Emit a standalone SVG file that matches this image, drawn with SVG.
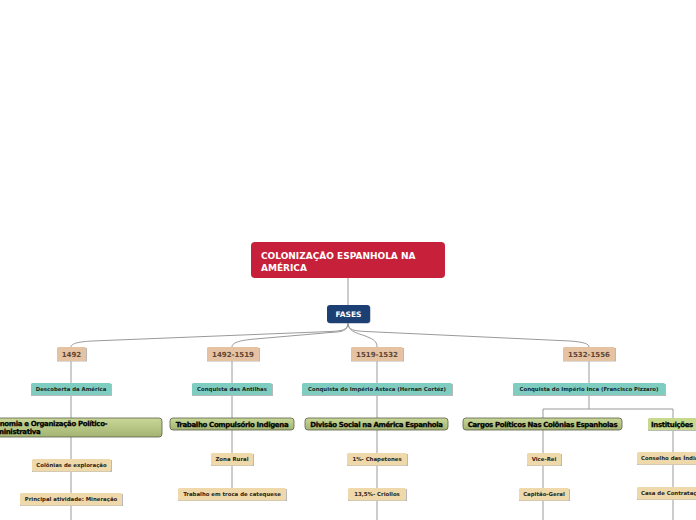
<svg xmlns="http://www.w3.org/2000/svg" width="696" height="520" viewBox="0 0 696 520">
<defs>
<linearGradient id="gr" x1="0" y1="0" x2="0" y2="1">
<stop offset="0" stop-color="#C9D898"/>
<stop offset="1" stop-color="#A3B371"/>
</linearGradient>
<style>
.ln{fill:none;stroke:#9a9a9a;stroke-width:1}
.sh{fill:#b9b9b9}
.t{font-family:"DejaVu Sans",Verdana,sans-serif;font-weight:bold;text-anchor:middle}
.root{fill:#C7203A}
.root-t{fill:#fff;font-size:9px;text-anchor:start}
.fases{fill:#1C3F74}
.fases-t{fill:#fff;font-size:7.5px}
.ph{fill:#E5C2A2}
.ph-t{fill:#5E4535;font-size:7px}
.tl{fill:#7FCDC1}
.tl-t{fill:#1a2a28;font-size:5.4px}
.gn{fill:url(#gr);stroke:#5a5f4a;stroke-width:0.8}
.gn-t{fill:#000;stroke:#000;stroke-width:0.25;font-size:7px;letter-spacing:-0.35px}
.gl{fill:#C6D98C}
.bg{fill:#EFD9AA}
.bg-t{fill:#2b2418;font-size:5.4px}
</style>
</defs>
<rect width="696" height="520" fill="#fff"/>
<g id="connectors">
<path class="ln" d="M348,278 V305"/>
<path class="ln" d="M348,323 C348,330 342,331 330,331.5 L92,341 C76,342 71,344 71,347"/>
<path class="ln" d="M348,323 C348,331 342,332 330,332.5 L255,339 C238,340.5 232,343 232,347"/>
<path class="ln" d="M348,323 C348,333 360,333 370,338 C375,340 377,343 377,347"/>
<path class="ln" d="M348,323 C348,330 354,331 366,331.5 L570,341 C584,342 589,344 589,347"/>
<path class="ln" d="M71,361 V520"/>
<path class="ln" d="M232,361 V488"/>
<path class="ln" d="M377,361 V520"/>
<path class="ln" d="M589,361 V409 M543,409 H673 M543,409 V520 M673,409 V520"/>
</g>
<g id="root">
<rect x="251" y="242" width="194" height="36" rx="4" class="root"/>
<text class="t root-t" x="261" y="259">COLONIZAÇÃO ESPANHOLA NA</text>
<text class="t root-t" x="261" y="271">AMÉRICA</text>
</g>
<g id="fases">
<rect x="327.5" y="305.5" width="43" height="18" rx="3" fill="#9aa3b3"/>
<rect x="327" y="305" width="43" height="18" rx="3" class="fases"/>
<text class="t fases-t" x="348.5" y="317">FASES</text>
</g>
<g id="p1492">
<rect x="57" y="348" width="30" height="13.5" class="sh"/>
<rect x="57" y="347" width="29" height="14" rx="1.5" class="ph"/>
<text class="t ph-t" x="71.5" y="356.5">1492</text>
</g>
<g id="p1492-1519">
<rect x="207" y="348" width="53" height="13.5" class="sh"/>
<rect x="207" y="347" width="52" height="14" rx="1.5" class="ph"/>
<text class="t ph-t" x="233" y="356.5">1492-1519</text>
</g>
<g id="p1519-1532">
<rect x="351" y="348" width="53" height="13.5" class="sh"/>
<rect x="351" y="347" width="52" height="14" rx="1.5" class="ph"/>
<text class="t ph-t" x="377" y="356.5">1519-1532</text>
</g>
<g id="p1532-1556">
<rect x="563" y="348" width="53" height="13.5" class="sh"/>
<rect x="563" y="347" width="52" height="14" rx="1.5" class="ph"/>
<text class="t ph-t" x="589" y="356.5">1532-1556</text>
</g>
<g id="descoberta">
<rect x="31" y="384" width="81" height="12" class="sh"/>
<rect x="31" y="383" width="80" height="12" rx="1.5" class="tl"/>
<text class="t tl-t" x="71" y="391">Descoberta da América</text>
</g>
<g id="antilhas">
<rect x="192" y="384" width="81" height="12" class="sh"/>
<rect x="192" y="383" width="80" height="12" rx="1.5" class="tl"/>
<text class="t tl-t" x="232" y="391">Conquista das Antilhas</text>
</g>
<g id="asteca">
<rect x="302" y="384" width="151" height="12" class="sh"/>
<rect x="302" y="383" width="150" height="12" rx="1.5" class="tl"/>
<text class="t tl-t" x="377" y="391">Conquista do Império Asteca (Hernan Cortéz)</text>
</g>
<g id="inca">
<rect x="513" y="384" width="153" height="12" class="sh"/>
<rect x="513" y="383" width="152" height="12" rx="1.5" class="tl"/>
<text class="t tl-t" x="589" y="391">Conquista do Império Inca (Francisco Pizzaro)</text>
</g>
<g id="economia">
<rect x="-20" y="418" width="182" height="19" rx="3" class="gn"/>
<text class="t gn-t" x="-13" y="426" style="text-anchor:start">Economia e Organização Político-</text>
<text class="t gn-t" x="-13" y="433.5" style="text-anchor:start">Administrativa</text>
</g>
<g id="trabalho-compulsorio">
<rect x="170" y="418" width="124" height="12" rx="3" class="gn"/>
<text class="t gn-t" x="232" y="426.5">Trabalho Compulsório Indigena</text>
</g>
<g id="divisao-social">
<rect x="305" y="418" width="143" height="12" rx="3" class="gn"/>
<text class="t gn-t" x="376.5" y="426.5">Divisão Social na América Espanhola</text>
</g>
<g id="cargos">
<rect x="463" y="418" width="159" height="12" rx="3" class="gn"/>
<text class="t gn-t" x="542.5" y="426.5">Cargos Políticos Nas Colônias Espanholas</text>
</g>
<g id="instituicoes">
<rect x="648" y="419" width="60" height="12" class="sh"/>
<rect x="648" y="418" width="60" height="12" rx="1.5" class="gl"/>
<text class="t gn-t" x="651" y="426.5" style="text-anchor:start">Instituições</text>
</g>
<g id="colonias">
<rect x="32" y="460" width="80" height="12" class="sh"/>
<rect x="32" y="459" width="79" height="12.5" rx="1.5" class="bg"/>
<text class="t bg-t" x="71.5" y="467.2">Colônias de exploração</text>
</g>
<g id="mineracao">
<rect x="20" y="494" width="103" height="12" class="sh"/>
<rect x="20" y="493" width="102" height="12.5" rx="1.5" class="bg"/>
<text class="t bg-t" x="71" y="501.2">Principal atividade: Mineração</text>
</g>
<g id="zona-rural">
<rect x="211" y="454" width="43" height="12" class="sh"/>
<rect x="211" y="453" width="42" height="12.5" rx="1.5" class="bg"/>
<text class="t bg-t" x="232" y="461.2">Zona Rural</text>
</g>
<g id="catequese">
<rect x="178" y="489" width="109" height="12" class="sh"/>
<rect x="178" y="488" width="108" height="12.5" rx="1.5" class="bg"/>
<text class="t bg-t" x="232" y="496.2">Trabalho em troca de catequese</text>
</g>
<g id="chapetones">
<rect x="347" y="454" width="61" height="12" class="sh"/>
<rect x="347" y="453" width="60" height="12.5" rx="1.5" class="bg"/>
<text class="t bg-t" x="377" y="461.2">1%- Chapetones</text>
</g>
<g id="criollos">
<rect x="348" y="489" width="59" height="12" class="sh"/>
<rect x="348" y="488" width="58" height="12.5" rx="1.5" class="bg"/>
<text class="t bg-t" x="377" y="496.2">13,5%- Criollos</text>
</g>
<g id="vice-rei">
<rect x="527" y="454" width="35" height="12" class="sh"/>
<rect x="527" y="453" width="34" height="12.5" rx="1.5" class="bg"/>
<text class="t bg-t" x="544" y="461.2">Vice-Rei</text>
</g>
<g id="capitao-geral">
<rect x="519" y="489" width="51" height="12" class="sh"/>
<rect x="519" y="488" width="50" height="12.5" rx="1.5" class="bg"/>
<text class="t bg-t" x="544" y="496.2">Capitão-Geral</text>
</g>
<g id="conselho">
<rect x="637" y="453" width="70" height="12" class="sh"/>
<rect x="637" y="452" width="70" height="12.5" rx="1.5" class="bg"/>
<text class="t bg-t" x="641" y="460.2" style="text-anchor:start">Conselho das Índias</text>
</g>
<g id="casa">
<rect x="637" y="488" width="70" height="12" class="sh"/>
<rect x="637" y="487" width="70" height="12.5" rx="1.5" class="bg"/>
<text class="t bg-t" x="641" y="495.2" style="text-anchor:start">Casa de Contratação</text>
</g>
</svg>
